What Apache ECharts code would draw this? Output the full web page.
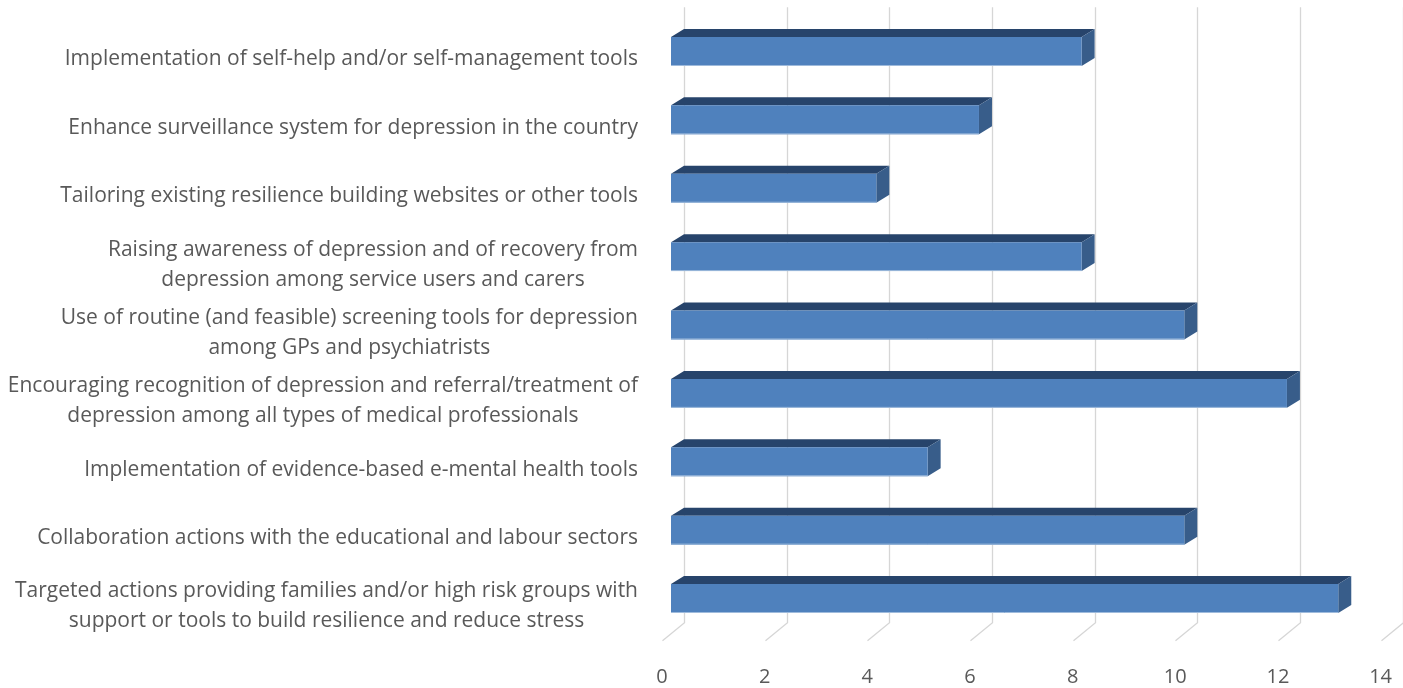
<!DOCTYPE html>
<html lang="en">
<head>
<meta charset="utf-8">
<title>Actions on depression</title>
<style>
  html, body { margin: 0; padding: 0; background: #fff; }
  #chart { width: 1403px; height: 688px; }
</style>
</head>
<body>
<div id="chart"></div>
<script src="https://cdn.jsdelivr.net/npm/echarts@6/dist/echarts.min.js"></script>
<script>
// data, top to bottom
var categories = [
  "Implementation of self-help and/or self-management tools",
  "Enhance surveillance system for depression in the country",
  "Tailoring existing resilience building websites or other tools",
  "Raising awareness of depression and of recovery from\ndepression among service users and carers",
  "Use of routine (and feasible) screening tools for depression\namong GPs and psychiatrists",
  "Encouraging recognition of depression and referral/treatment of\ndepression among all types of medical professionals",
  "Implementation of evidence-based e-mental health tools",
  "Collaboration actions with the educational and labour sectors",
  "Targeted actions providing families and/or high risk groups with\nsupport or tools to build resilience and reduce stress"
];
var values = [8, 6, 4, 8, 10, 12, 5, 10, 13];
var ticks = [0, 2, 4, 6, 8, 10, 12, 14];

// fake 3d look
var DX = 13, DY = -8;
var LIFT = 8;

var chart = echarts.init(document.getElementById("chart"));

function renderBar(params, api) {
  var idx = api.value(0);
  var v = api.value(1);
  var a = api.coord([0, idx]);
  var b = api.coord([v, idx]);
  var h = api.size([0, 1])[1] * 0.424;
  var x0 = a[0], x1 = b[0];
  var top = a[1] - LIFT - h / 2, bot = top + h;
  return {
    type: "group",
    children: [
      {
        type: "polygon",
        shape: { points: [[x0, top], [x0 + DX, top + DY], [x1 + DX, top + DY], [x1, top]] },
        style: { fill: "#27446b" }
      },
      {
        type: "polygon",
        shape: { points: [[x1, top], [x1 + DX, top + DY], [x1 + DX, bot + DY], [x1, bot]] },
        style: { fill: "#385d8a" }
      },
      {
        type: "rect",
        shape: { x: x0, y: top, width: x1 - x0, height: h },
        style: { fill: "#4f81bd" }
      },
      {
        type: "line",
        shape: { x1: x0, y1: bot - 0.5, x2: x1, y2: bot - 0.5 },
        style: { stroke: "#9fbbdc", lineWidth: 1 }
      }
    ]
  };
}

function renderGrid(params, api) {
  var cs = params.coordSys;
  var x = Math.round(api.coord([api.value(0), 0])[0] + DX) + 0.5;
  var floorY = cs.y + cs.height - 18;
  return {
    type: "polyline",
    silent: true,
    shape: { points: [[x, cs.y - 18], [x, floorY], [x - 22, floorY + 18]] },
    style: { stroke: "#d6d6d6", lineWidth: 1.3, fill: null }
  };
}

chart.setOption({
  animation: false,
  backgroundColor: "#ffffff",
  grid: { left: 671, right: 13.4, top: 25.3, bottom: 47.3, containLabel: false },
  xAxis: {
    type: "value",
    min: 0,
    max: 14,
    interval: 2,
    axisLine: { show: false },
    axisTick: { show: false },
    splitLine: { show: false },
    axisLabel: {
      margin: 27,
      padding: [0, 18, 0, 0],
      color: "#595959",
      fontFamily: "Open Sans",
      fontSize: 20
    }
  },
  yAxis: {
    type: "category",
    inverse: true,
    data: categories,
    axisLine: { show: false },
    axisTick: { show: false },
    axisLabel: {
      margin: 33,
      align: "right",
      color: "#595959",
      fontFamily: "Open Sans",
      fontSize: 21,
      lineHeight: 30,
      formatter: function (s) {
        return s.split("\n").map(function (l) { return "{c|" + l + "}"; }).join("\n");
      },
      rich: {
        c: { align: "center", color: "#595959", fontFamily: "Open Sans", fontSize: 21, lineHeight: 30 }
      }
    }
  },
  series: [
    {
      type: "custom",
      renderItem: renderGrid,
      clip: false,
      silent: true,
      z: 1,
      encode: { x: 0, y: 1 },
      data: ticks.map(function (t) { return [t, 0]; })
    },
    {
      type: "custom",
      renderItem: renderBar,
      clip: false,
      z: 2,
      encode: { x: 1, y: 0 },
      data: values.map(function (v, i) { return [i, v]; })
    }
  ]
});
</script>
</body>
</html>
